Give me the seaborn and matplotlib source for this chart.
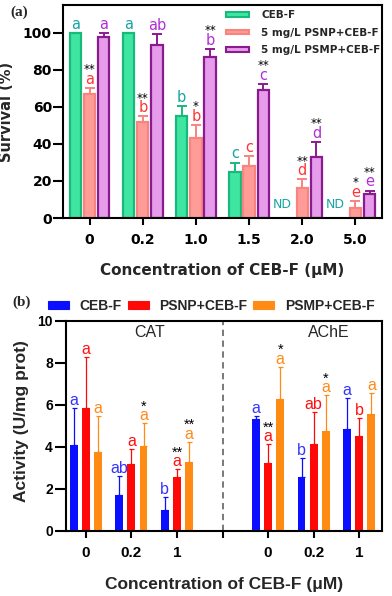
import numpy as np
import pandas as pd
import matplotlib
matplotlib.use("Agg")
import matplotlib.pyplot as plt
from matplotlib.patches import Patch
import seaborn as sns

# ---- panel (a): survival ----
conc_a = ['0', '0.2', '1.0', '1.5', '2.0', '5.0']
groups_a = ['CEB-F', '5 mg/L PSNP+CEB-F', '5 mg/L PSMP+CEB-F']
surv_ceb = [100, 100, 55, 24.7, 0, 0]
surv_psnp = [67, 52, 43, 28.3, 16.4, 5.6]
surv_psmp = [97.7, 93.5, 87, 69.3, 32.8, 13]
err_ceb = [0, 0, 5.4, 5.2, 0, 0]
err_psnp = [3.2, 3.0, 7.2, 5.2, 4.5, 3.6]
err_psmp = [2.1, 5.8, 4.2, 3.1, 8.4, 1.8]
let_ceb = ['a', 'a', 'b', 'c', 'ND', 'ND']
let_psnp = ['a', 'b', 'b', 'c', 'd', 'e']
let_psmp = ['a', 'ab', 'b', 'c', 'd', 'e']
star_ceb = ['', '', '', '', '', '']
star_psnp = ['**', '**', '*', '', '**', '*']
star_psmp = ['', '', '**', '**', '**', '**']

# ---- panel (b): enzyme activity ----
conc_b = ['0', '0.2', '1']
groups_b = ['CEB-F', 'PSNP+CEB-F', 'PSMP+CEB-F']
cat_ceb = [4.1, 1.71, 1.0]
cat_psnp = [5.84, 3.17, 2.59]
cat_psmp = [3.78, 4.05, 3.27]
ache_ceb = [5.32, 2.56, 4.84]
ache_psnp = [3.25, 4.13, 4.52]
ache_psmp = [6.27, 4.78, 5.57]
cat_ceb_err = [1.74, 0.91, 0.6]
cat_psnp_err = [2.46, 0.72, 0.35]
cat_psmp_err = [1.7, 1.08, 0.98]
ache_ceb_err = [0.16, 0.9, 1.48]
ache_psnp_err = [0.89, 1.52, 0.85]
ache_psmp_err = [1.55, 1.7, 0.99]
let_b_ceb = ['a', 'ab', 'b', 'a', 'b', 'a']
let_b_psnp = ['a', 'a', 'a', 'a', 'ab', 'b']
let_b_psmp = ['a', 'a', 'a', 'a', 'a', 'a']
star_b_ceb = ['', '', '', '', '', '']
star_b_psnp = ['', '', '**', '**', '', '']
star_b_psmp = ['', '*', '**', '*', '*', '']

fill_a = ['#3ee6a2', '#ff9c97', '#e69ceb']
edge_a = ['#19b97c', '#f7847f', '#8a1b8e']
text_a = ['#17a4a4', '#ff3636', '#b22fd8']
col_b = ['#0a10ff', '#ff0808', '#ff8a14']
text_b = ['#3434ff', '#ff1010', '#ff8a1a']

sns.set_style("ticks")
plt.rcParams['font.family'] = ['DejaVu Sans']
plt.rcParams['axes.edgecolor'] = 'black'
plt.rcParams['xtick.color'] = 'black'
plt.rcParams['ytick.color'] = 'black'

fig = plt.figure(figsize=(3.92, 5.96), dpi=100)
W, H = 392, 596
ax1 = fig.add_axes([63 / W, 1 - 218 / H, (382 - 63) / W, (218 - 5) / H])
ax2 = fig.add_axes([66 / W, 1 - 531 / H, (382 - 66) / W, (531 - 321) / H])


def add_marks(ax, container, values, errs, letters, stars, line_col, text_col,
              elw, cap, fs_let, fs_star, let_off, star_off, family):
    patches = sorted(container.patches, key=lambda p: p.get_x())
    xs = np.array([p.get_x() + p.get_width() / 2 for p in patches])
    vals = np.asarray(values, float)
    errs = np.asarray(errs, float)
    has = errs > 0
    ax.errorbar(xs[has], vals[has], yerr=[np.zeros(has.sum()), errs[has]], fmt='none',
                ecolor=line_col, elinewidth=elw, capsize=cap, capthick=elw, zorder=3)
    for x, v, e, let, st in zip(xs, vals, errs, letters, stars):
        if let == 'ND':
            ax.annotate(let, (x, 0), xytext=(-4, 7), textcoords='offset points',
                        ha='center', va='baseline', color=text_col, fontsize=9, family=family)
            continue
        ax.annotate(let, (x, v + e), xytext=(0, let_off), textcoords='offset points',
                    ha='center', va='baseline', color=text_col, fontsize=fs_let, family=family)
        if st:
            ax.annotate(st, (x, v + e), xytext=(0, star_off), textcoords='offset points',
                        ha='center', va='baseline', color='black', fontsize=fs_star, family=family)


# ---------- panel (a) ----------
df_a = pd.DataFrame({
    'conc': conc_a * 3,
    'group': np.repeat(groups_a, len(conc_a)),
    'survival': surv_ceb + surv_psnp + surv_psmp,
})
sns.barplot(data=df_a, x='conc', y='survival', hue='group', order=conc_a, hue_order=groups_a,
            palette=fill_a, saturation=1, width=0.8, gap=0.2, errorbar=None, legend=False,
            linewidth=1.6, ax=ax1)
bars_a = list(ax1.containers)
for cont, ec in zip(bars_a, edge_a):
    for p in cont.patches:
        p.set_edgecolor(ec)
        if p.get_height() == 0:
            p.set_visible(False)

for cont, vals, errs, lets, sts, ec, tc in zip(
        bars_a, [surv_ceb, surv_psnp, surv_psmp], [err_ceb, err_psnp, err_psmp],
        [let_ceb, let_psnp, let_psmp], [star_ceb, star_psnp, star_psmp], edge_a, text_a):
    add_marks(ax1, cont, vals, errs, lets, sts, ec, tc, elw=1.4, cap=3.3,
              fs_let=10.5, fs_star=8.5, let_off=3, star_off=10.5, family='DejaVu Sans')

ax1.set_xlim(-0.5, 5.5)
ax1.set_ylim(0, 115)
ax1.set_yticks([0, 20, 40, 60, 80, 100])
for s in ax1.spines.values():
    s.set_visible(True)
    s.set_linewidth(1.5)
    s.set_color('black')
ax1.tick_params(axis='y', length=7, width=1.5, pad=1, labelsize=10)
ax1.tick_params(axis='x', length=5, width=1.5, pad=5.5, labelsize=10)
for lbl in ax1.get_xticklabels() + ax1.get_yticklabels():
    lbl.set_fontweight('bold')
ax1.set_xlabel('Concentration of CEB-F (μM)', fontsize=11, fontweight='bold', va='top')
ax1.xaxis.set_label_coords(0.5, -0.212)
ax1.set_ylabel('Survival (%)', fontsize=10.5, fontweight='bold')
ax1.yaxis.set_label_coords(-0.154, 0.5)

handles_a = [Patch(facecolor=f, edgecolor=e, linewidth=1.5) for f, e in zip(fill_a, edge_a)]
ax1.legend(handles_a, groups_a, loc='upper left', bbox_to_anchor=(0.511, 0.975), frameon=False,
           prop={'weight': 'bold', 'size': 7.5}, handlelength=2.2, handleheight=0.3,
           handletextpad=1.2, labelspacing=0.72, borderpad=0, borderaxespad=0)
fig.text(10 / W, 1 - 12 / H, '(a)', fontsize=11, fontweight='bold', family='Liberation Serif',
         va='center', ha='left')

# ---------- panel (b) ----------
pos_b = ['CAT ' + c for c in conc_b] + [' '] + ['AChE ' + c for c in conc_b]
present_b = ['CAT ' + c for c in conc_b] + ['AChE ' + c for c in conc_b]
df_b = pd.DataFrame({
    'pos': present_b * 3,
    'group': np.repeat(groups_b, len(present_b)),
    'activity': cat_ceb + ache_ceb + cat_psnp + ache_psnp + cat_psmp + ache_psmp,
})
sns.barplot(data=df_b, x='pos', y='activity', hue='group', order=pos_b, hue_order=groups_b,
            palette=col_b, saturation=1, width=0.8, gap=0.35, errorbar=None, legend=False,
            linewidth=0, ax=ax2)
bars_b = list(ax2.containers)
for cont, vals, errs, lets, sts, c, tc in zip(
        bars_b,
        [cat_ceb + ache_ceb, cat_psnp + ache_psnp, cat_psmp + ache_psmp],
        [cat_ceb_err + ache_ceb_err, cat_psnp_err + ache_psnp_err, cat_psmp_err + ache_psmp_err],
        [let_b_ceb, let_b_psnp, let_b_psmp], [star_b_ceb, star_b_psnp, star_b_psmp],
        col_b, text_b):
    add_marks(ax2, cont, vals, errs, lets, sts, c, tc, elw=0.9, cap=1.8,
              fs_let=11.5, fs_star=10.5, let_off=2.2, star_off=9, family='Liberation Sans')

ax2.axvline(3, color='#6e6e6e', linestyle=(0, (3.5, 2.5)), linewidth=1.3, zorder=0)
ax2.set_xlim(-0.435, 6.5)
ax2.set_ylim(0, 10)
ax2.set_yticks([0, 2, 4, 6, 8, 10])
ax2.set_xticks(range(7))
ax2.set_xticklabels(conc_b + [''] + conc_b)
for s in ax2.spines.values():
    s.set_visible(True)
    s.set_linewidth(1.5)
    s.set_color('black')
ax2.tick_params(axis='y', length=8, width=1.5, pad=1.5, labelsize=10)
ax2.tick_params(axis='x', length=5, width=1.5, pad=6, labelsize=11)
for lbl in ax2.get_xticklabels() + ax2.get_yticklabels():
    lbl.set_fontweight('bold')
    lbl.set_fontfamily('Liberation Sans')
ax2.text(1.4, 9.43, 'CAT', ha='center', va='center', fontsize=11.5, family='Liberation Sans')
ax2.text(5.33, 9.43, 'AChE', ha='center', va='center', fontsize=11.5, family='Liberation Sans')
ax2.set_xlabel('Concentration of CEB-F (μM)', fontsize=12.5, fontweight='bold',
               family='Liberation Sans', va='top')
ax2.xaxis.set_label_coords(0.5, -0.22)
ax2.set_ylabel('Activity (U/mg prot)', fontsize=12.5, fontweight='bold', family='Liberation Sans')
ax2.yaxis.set_label_coords(-0.117, 0.524)

handles_b = [Patch(facecolor=c, edgecolor=c, linewidth=0.8) for c in col_b]
fig.legend(handles_b, groups_b, loc='upper left', bbox_to_anchor=(48 / W, 1 - 299 / H), ncol=3,
           frameon=False, prop={'weight': 'bold', 'size': 10, 'family': 'Liberation Sans'},
           handlelength=1.5, handleheight=0.5, handletextpad=0.75, columnspacing=0.45,
           borderpad=0, borderaxespad=0)
fig.text(12 / W, 1 - 302 / H, '(b)', fontsize=11, fontweight='bold', family='Liberation Serif',
         va='center', ha='left')

fig.savefig('out.png', dpi=100)
